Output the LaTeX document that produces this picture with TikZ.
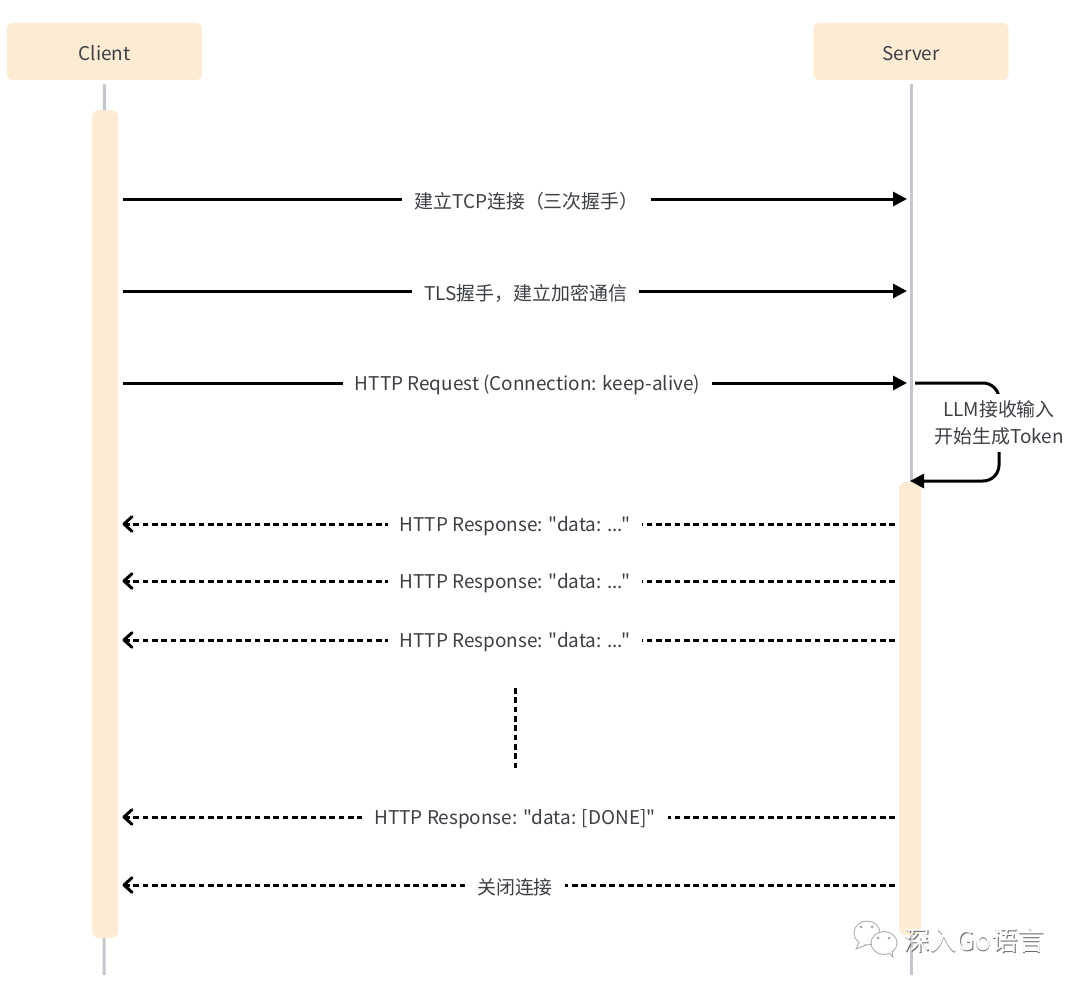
\documentclass[tikz,border=0pt]{standalone}
\usepackage{fontspec}
\setmainfont{Noto Sans CJK SC}[Ligatures=TeXOff]
\usetikzlibrary{arrows.meta,positioning}
\definecolor{barcolor}{HTML}{FDEBD4}
\definecolor{lifecolor}{HTML}{C2C6CE}
\definecolor{labelcolor}{HTML}{3C4045}
\tikzset{
    actorbox/.style={fill=barcolor,rounded corners=4.5pt,minimum width=146.5pt,minimum height=42.75pt,inner sep=0pt,text=labelcolor,text height=16pt,text depth=3pt},
    activebar/.style={fill=barcolor,rounded corners=5pt,inner sep=0pt},
    lifeline/.style={draw=lifecolor,line width=2.25pt},
    reqline/.style={draw=black,line width=2.25pt,-{Triangle[length=10.5pt,width=10.5pt]}},
    respline/.style={draw=black,line width=2.25pt,dash pattern=on 4.2pt off 2.8pt,-{Straight Barb[length=6pt,width=11pt,line width=2.25pt,round]}},
    msglabel/.style={fill=white,text=labelcolor,inner xsep=9pt,inner ysep=2pt,yshift=-1.5pt},
    wmark/.style={font=\fontsize{20}{20}\selectfont,inner sep=0pt,anchor=west},
    wmbubble/.style={draw=gray!70,line width=0.6pt,fill=white}
}
\begin{document}
\begin{tikzpicture}[x=0.75pt,y=-0.75pt,font=\fontsize{14.2}{20}\selectfont]

\def\leftend{122.5}
\def\rightend{907}
\def\respstart{895}

\newcommand\reqarrow[4]
{
    \coordinate (reqa#1) at (\leftend,#2);
    \coordinate (reqb#1) at (\rightend,#2);
    \draw [reqline] (reqa#1) -- (reqb#1);
    \node [msglabel] (reql#1) at (#3,#2) {#4};
}

\newcommand\resparrow[4]
{
    \coordinate (respa#1) at (\respstart,#2);
    \coordinate (respb#1) at (\leftend,#2);
    \draw [respline] (respa#1) -- (respb#1);
    \node [msglabel] (respl#1) at (#3,#2) {#4};
}

\useasboundingbox (0,0) rectangle (1080,988);

\node [actorbox] (client) at (104.5,51.5) {Client};
\node [actorbox] (server) at (911,51.5) {Server};

\coordinate (clientend) at (104,975);
\coordinate (serverend) at (911,975);
\draw [lifeline,shorten <=3pt] (client.south) -- (clientend);
\draw [lifeline,shorten <=3pt] (server.south) -- (serverend);

\node [activebar,minimum width=19.5pt,minimum height=621pt] (clientbar) at (105,524) {};
\node [activebar,minimum width=16.5pt,minimum height=340pt] (serverbar) at (910,708.5) {};

\reqarrow{1}{199}{526.5}{建立TCP连接（三次握手）}
\reqarrow{2}{291}{525.5}{TLS握手，建立加密通信}
\reqarrow{3}{383}{527.5}{HTTP Request (Connection: keep-alive)}

\coordinate (loopa) at (915,383);
\coordinate (loopb) at (910,481);
\draw [reqline,rounded corners=12pt] (loopa) -| (999,481) -- (loopb);
\node [msglabel,align=center,inner xsep=2pt,inner ysep=5.5pt] (loopl) at (999,421) {LLM接收输入\\开始生成Token};

\foreach \i/\y in {1/524,2/581,3/640}
{
    \resparrow{\i}{\y}{515}{HTTP Response: "data: ..."}
}

\coordinate (gapa) at (515,688);
\coordinate (gapb) at (515,768);
\draw [draw=black,line width=2.25pt,dash pattern=on 4.2pt off 2.8pt] (gapa) -- (gapb);

\resparrow{4}{817}{515}{HTTP Response: "data: [DONE]"}
\resparrow{5}{885}{515}{关闭连接}

\draw [wmbubble] (867,933) ellipse [x radius=13,y radius=12];
\draw [wmbubble] (859,942) -- (856,949) -- (866,945);
\fill [gray!70] (861,927) circle [radius=1.5] (872,927) circle [radius=1.5];
\draw [wmbubble] (884,943) ellipse [x radius=13,y radius=11.5];
\draw [wmbubble] (889,953) -- (893,957) -- (892,951);
\fill [gray!70] (878,938) circle [radius=1.5] (889,938) circle [radius=1.5];
\node [wmark,text=gray!80!black] (wmshadow) at (904,941) {深入Go语言};
\node [wmark,text=white] (wmtext) at (903.2,940.2) {深入Go语言};

\end{tikzpicture}
\end{document}
